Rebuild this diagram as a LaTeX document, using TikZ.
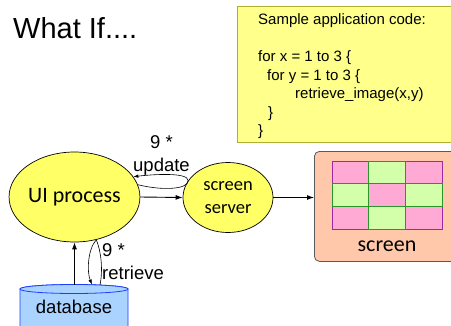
\documentclass[tikz,border=0pt]{standalone}
\usepackage{fontspec}
\setmainfont{Liberation Sans}
\newfontfamily\calfont{Carlito}
\usetikzlibrary{shapes.geometric,arrows.meta}
\definecolor{ellyellow}{RGB}{255,255,102}
\definecolor{codefill}{RGB}{255,255,140}
\definecolor{codeborder}{RGB}{176,176,48}
\definecolor{scrfill}{RGB}{255,200,170}
\definecolor{scrborder}{RGB}{90,90,90}
\definecolor{pinkfill}{RGB}{255,170,212}
\definecolor{pinkdraw}{RGB}{160,40,160}
\definecolor{greenfill}{RGB}{212,255,170}
\definecolor{greendraw}{RGB}{40,150,40}
\definecolor{dbfill}{RGB}{170,212,255}
\definecolor{dbdraw}{RGB}{30,60,255}
\begin{document}
\begin{tikzpicture}[x=1pt,y=-1pt,
  proc/.style={ellipse, draw=black, line width=0.7pt, fill=ellyellow, inner sep=0pt},
  arr/.style={line width=0.9pt, -{Latex[length=7pt,width=5pt]}},
  loopline/.style={line width=0.6pt, -{Latex[length=5pt,width=3.5pt]}},
  lbl/.style={font=\fontsize{18.5}{23}\selectfont, inner sep=0pt},
  codeline/.style={anchor=base west, inner sep=0pt, font=\fontsize{15}{18.5}\selectfont},
  pinkcell/.style={fill=pinkfill, draw=pinkdraw, line width=0.7pt},
  greencell/.style={fill=greenfill, draw=greendraw, line width=0.7pt}]
\useasboundingbox (0,0) rectangle (451,325);
\clip (0,0) rectangle (451,325);
\fill[white] (0,0) rectangle (451,325);

% title
\node[anchor=base west, inner sep=0pt, font=\fontsize{29}{35}\selectfont] (title) at (13,38) {What If....};

% code box
\node[draw=codeborder, fill=codefill, line width=0.8pt, minimum width=230pt, minimum height=136pt, anchor=north west, inner sep=0pt] (code) at (237,6) {};
\node[codeline] (c1) at (258,24.5) {Sample application code:};
\node[codeline] (c2) at (258,61.5) {for x = 1 to 3 \{};
\node[codeline] (c3) at (267,80) {for y = 1 to 3 \{};
\node[codeline] (c4) at (295,98.5) {retrieve\_image(x,y)};
\node[codeline] (c5) at (268,117) {\}};
\node[codeline] (c6) at (258,135.5) {\}};

% screen
\node[draw=scrborder, fill=scrfill, line width=0.8pt, rounded corners=5pt, minimum width=150pt, minimum height=110pt, anchor=north west, inner sep=0pt] (scr) at (314,151) {};
\foreach \c/\r in {0/0,2/0,1/1,0/2,2/2}
  \draw[pinkcell] ({332+\c*36.667},{161+\r*22.667}) rectangle +(36.667,22.667);
\foreach \c/\r in {1/0,0/1,2/1,1/2}
  \draw[greencell] ({332+\c*36.667},{161+\r*22.667}) rectangle +(36.667,22.667);
\node[inner sep=0pt, font=\calfont\fontsize{22}{26}\selectfont] (scrlbl) at (387,246) {screen};

% processes
\node[proc, minimum width=127pt, minimum height=90pt, font=\calfont\fontsize{22}{26}\selectfont] (ui) at (74.5,197) {UI process};
\node[proc, minimum width=90pt, minimum height=70pt, align=center, font=\calfont\fontsize{18.5}{23}\selectfont] (srv) at (228,197.5) {screen\\server};

% database
\fill[dbfill] (20,330) -- (20,289) arc[start angle=180, end angle=360, x radius=54, y radius=4.5] -- (128,330) -- cycle;
\draw[dbdraw, line width=0.8pt] (20,330) -- (20,289) arc[start angle=180, end angle=360, x radius=54, y radius=4.5] -- (128,330);
\draw[dbdraw, fill=dbfill, line width=0.8pt] (74,289) ellipse[x radius=54, y radius=4.5];
\node[lbl] (db) at (74,307) {database};
\coordinate (dbtop) at (74.5,284.5);
\coordinate (dbA) at (100,285);
\coordinate (dbB) at (92,284.5);

% connectors
\draw[arr] (ui.east) -- (srv.west);
\draw[arr] (srv.east) -- (srv.east -| scr.west);
\draw[arr] (dbtop) -- (ui.south);
\draw[loopline] (ui.11) .. controls +(24,6) and +(0,9) .. (srv.157) .. controls +(0,-9) and +(16,-2) .. (ui.19);
\draw[loopline] (dbA) .. controls +(3,-15) and +(5,12) .. (ui.-63) .. controls +(-9,10) and +(-5,-12) .. (dbB);

% labels
\node[lbl, align=center] (upd) at (161.5,155) {9 *\\update};
\node[lbl, align=left, anchor=north west] (ret) at (102,243.3) {9 *\\retrieve};
\end{tikzpicture}
\end{document}
